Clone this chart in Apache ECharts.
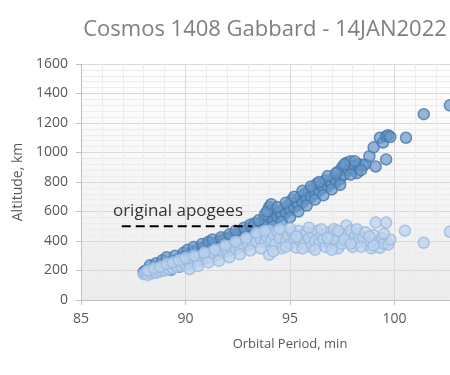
<!DOCTYPE html>
<html>
<head>
<meta charset="utf-8">
<script src="https://cdn.jsdelivr.net/npm/echarts@6/dist/echarts.min.js"></script>
<style>
html,body{margin:0;padding:0;background:#fff;overflow:hidden;width:450px;height:375px;}
#chart{width:530px;height:375px;}
</style>
</head>
<body>
<div id="chart"></div>
<script>
const titleText = "Cosmos 1408 Gabbard - 14JAN2022";
const xAxisName = "Orbital Period, min";
const yAxisName = "Altitude, km";
const annotationText = "original apogees";

// [orbital period (min), apogee altitude (km)]
const apogees = [
[88.0,190],[88.1,200],[88.2,185],[88.3,205],[88.4,210],[88.5,200],[88.6,225],[88.7,215],[88.8,235],[88.9,225],
[89.0,245],[89.1,235],[89.2,255],[89.3,240],[89.4,265],[89.5,250],[89.6,275],[89.7,260],[89.8,290],[89.9,270],
[90.0,300],[90.1,280],[90.2,315],[90.3,295],[90.4,330],[90.5,305],[90.6,345],[90.7,320],[90.8,355],[90.9,330],
[91.0,370],[91.1,340],[91.2,385],[91.3,355],[91.4,380],[91.5,365],[91.6,400],[91.7,375],[91.8,410],[91.9,385],
[92.0,420],[92.1,395],[92.2,430],[92.3,405],[92.4,445],[92.5,415],[92.6,455],[92.7,430],[92.8,465],[92.9,440],
[93.0,480],[93.1,455],[93.2,495],[93.3,470],[93.4,510],[93.5,480],[93.6,525],[93.7,500],[93.8,545],[93.9,520],
[94.0,630],[94.0,560],[94.1,610],[94.2,540],[94.3,590],[94.4,560],[94.5,600],[94.6,575],[94.7,620],[94.8,590],
[94.9,640],[95.0,610],[95.1,680],[95.2,630],[95.3,665],[95.4,645],[95.5,700],[95.6,660],[95.7,720],[95.8,690],
[95.9,740],[96.0,700],[96.1,760],[96.2,720],[96.3,790],[96.4,740],[96.5,780],[96.6,760],[96.7,810],[96.8,770],
[96.9,800],[97.0,790],[97.1,830],[97.2,800],[97.3,870],[97.4,820],[97.5,900],[97.6,850],[97.7,930],[97.8,880],
[97.9,940],[98.0,890],[98.1,910],[98.2,860],[98.3,920],[98.5,912],[98.6,920],[98.8,975],[99.0,1035],[99.1,905],
[99.3,1100],[99.45,1068],[99.6,953],[99.6,1110],[99.7,1117],[99.8,1105],[100.55,1100],[101.4,1260],[102.65,1320],
[88.3,235],[88.6,250],[88.9,270],[89.1,290],[89.3,205],[89.5,300],[89.7,225],[89.9,320],[90.1,340],[90.2,250],
[90.4,360],[90.6,285],[90.8,380],[91.0,305],[91.1,395],[91.3,410],[91.5,320],[91.7,425],[91.9,340],[92.1,445],
[92.2,360],[92.4,470],[92.6,380],[92.8,490],[93.0,420],[93.1,510],[93.3,520],[93.5,540],[93.6,470],[93.8,580],
[93.9,600],[94.1,650],[94.2,500],[94.4,630],[94.6,530],[94.8,660],[95.0,560],[95.2,700],[95.4,600],[95.6,740],
[95.8,640],[96.0,770],[96.2,680],[96.4,800],[96.6,710],[96.8,840],[97.0,750],[97.2,860],[97.4,780],[97.6,920],
[97.9,850],[98.1,940],[98.4,880]
];

// [orbital period (min), perigee altitude (km)]
const perigees = [
[88.0,175],[88.1,185],[88.2,170],[88.3,190],[88.4,180],[88.5,195],[88.6,185],[88.7,205],[88.8,195],[88.9,215],
[89.0,200],[89.1,220],[89.2,210],[89.3,230],[89.4,215],[89.5,240],[89.6,225],[89.7,250],[89.8,230],[89.9,255],
[90.0,240],[90.1,265],[90.2,245],[90.3,275],[90.4,255],[90.5,285],[90.6,265],[90.7,295],[90.8,275],[90.9,305],
[91.0,285],[91.1,315],[91.2,290],[91.3,325],[91.4,300],[91.5,335],[91.6,310],[91.7,345],[91.8,320],[91.9,355],
[92.0,330],[92.1,365],[92.2,340],[92.3,375],[92.4,345],[92.5,385],[92.6,355],[92.7,395],[92.8,365],[92.9,405],
[93.0,375],[93.1,415],[93.2,385],[93.3,425],[93.4,395],[93.5,440],[93.6,410],[93.7,455],[93.8,390],[93.9,430],
[94.0,306],[94.0,470],[94.1,400],[94.2,445],[94.3,380],[94.4,460],[94.5,420],[94.6,350],[94.7,470],[94.8,400],
[94.9,440],[95.0,380],[95.1,460],[95.2,420],[95.3,355],[95.4,470],[95.5,400],[95.6,440],[95.7,380],[95.8,460],
[95.9,420],[96.0,360],[96.1,450],[96.2,400],[96.3,470],[96.4,380],[96.5,440],[96.6,410],[96.7,360],[96.8,460],
[96.9,390],[97.0,430],[97.1,480],[97.2,400],[97.3,350],[97.4,460],[97.5,380],[97.6,440],[97.7,505],[97.8,400],
[97.9,470],[98.0,360],[98.1,430],[98.2,390],[98.3,450],[98.5,420],[98.7,380],[98.9,350],[99.0,440],[99.1,525],
[99.2,388],[99.3,354],[99.4,420],[99.5,380],[99.6,525],[99.7,375],[99.8,410],[100.5,470],[101.4,388],[102.65,463],
[88.2,200],[88.5,215],[88.8,225],[89.1,245],[89.4,255],[89.7,270],[90.0,285],[90.2,210],[90.4,300],[90.6,230],
[90.9,320],[91.1,255],[91.4,340],[91.6,265],[91.9,370],[92.1,290],[92.4,395],[92.6,310],[92.9,420],[93.1,335],
[93.4,455],[93.6,350],[93.8,470],[94.2,330],[94.5,480],[94.8,360],[95.0,485],[95.3,430],[95.6,350],[95.9,490],
[96.2,340],[96.5,480],[96.8,420],[97.0,340],[97.3,470],[97.6,410],[97.9,380],[98.2,480],[98.4,360],[98.6,460],
[98.8,430],[99.0,370],[99.5,450]
];

const originalApogeeLine = [[86.95,500],[93.2,500]];
const annotationPoint = [[89.64,600]];

const chart = echarts.init(document.getElementById('chart'), null, {renderer:'canvas'});
const axisGray = '#bfbfbf';
const labelGray = '#595959';
const fontFam = 'Open Sans, Liberation Sans, sans-serif';

chart.setOption({
  animation:false,
  title:{
    text:titleText, left:'center', top:14,
    textStyle:{color:'#7f7f7f', fontSize:22, fontWeight:'normal', fontFamily:fontFam}
  },
  grid:{
    left:81, right:31, top:64, bottom:75, show:true, borderWidth:0,
    backgroundColor:new echarts.graphic.LinearGradient(0,0,0,1,[{offset:0,color:'#ffffff'},{offset:1,color:'#ececec'}])
  },
  xAxis:{
    type:'value', min:85, max:105, interval:5,
    name:xAxisName, nameLocation:'middle', nameGap:38,
    nameTextStyle:{color:labelGray, fontSize:13, fontFamily:fontFam},
    axisLine:{show:true, onZero:false, lineStyle:{color:axisGray, width:1}},
    axisTick:{show:true, length:5, lineStyle:{color:axisGray}},
    axisLabel:{color:labelGray, fontSize:14, margin:12, fontFamily:fontFam},
    splitLine:{show:true, lineStyle:{color:'#d9d9d9'}},
    minorTick:{show:false, splitNumber:5},
    minorSplitLine:{show:true, lineStyle:{color:'#ececec'}}
  },
  yAxis:{
    type:'value', min:0, max:1600, interval:200,
    name:yAxisName, nameLocation:'middle', nameGap:54,
    nameTextStyle:{color:labelGray, fontSize:14, fontFamily:fontFam},
    axisLine:{show:true, lineStyle:{color:axisGray, width:1}},
    axisTick:{show:true, length:5, lineStyle:{color:axisGray}},
    axisLabel:{color:labelGray, fontSize:14, margin:13, fontFamily:fontFam, formatter:function(v){return String(v);}},
    splitLine:{show:true, lineStyle:{color:'#d9d9d9'}},
    minorTick:{show:false, splitNumber:5},
    minorSplitLine:{show:true, lineStyle:{color:'#ececec'}}
  },
  series:[
    {
      type:'scatter', name:'apogee', data:apogees, symbolSize:11,
      itemStyle:{color:'rgba(104,152,201,0.88)', borderColor:'#4778ab', borderWidth:1.5},
      z:2
    },
    {
      type:'scatter', name:'perigee', data:perigees, symbolSize:11,
      itemStyle:{color:'rgba(188,210,236,0.92)', borderColor:'#98b9e0', borderWidth:1.5},
      z:3
    },
    {
      type:'line', data:originalApogeeLine, symbol:'none',
      lineStyle:{color:'#000000', width:2, type:[9,5]}, z:4
    },
    {
      type:'scatter', data:annotationPoint, symbolSize:0, silent:true,
      label:{show:true, position:'inside', formatter:annotationText, color:'#000000', fontSize:17, fontFamily:fontFam},
      z:5
    }
  ]
});
</script>
</body>
</html>
